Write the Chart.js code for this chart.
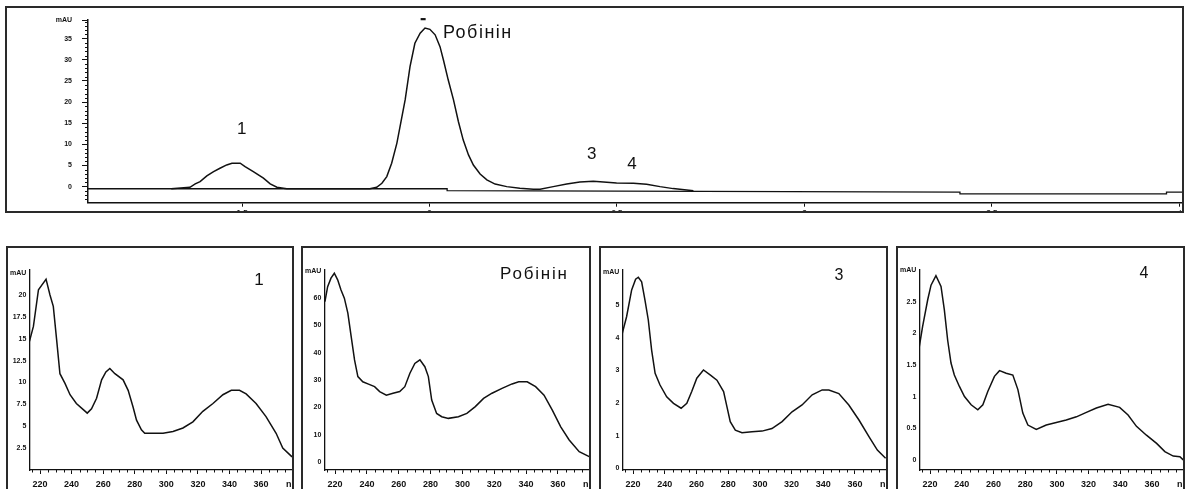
<!DOCTYPE html>
<html>
<head>
<meta charset="utf-8">
<script src="https://cdn.jsdelivr.net/npm/chart.js@4.4.1/dist/chart.umd.min.js"></script>
<style>
  html, body { margin: 0; padding: 0; background: #fff; }
  body { width: 1192px; height: 489px; overflow: hidden; position: relative; }
  .frame { position: absolute; border: 2px solid #2a2a2a; box-sizing: border-box; pointer-events: none; z-index: 2; }
  .clip { position: absolute; overflow: hidden; }
  .holder { position: absolute; }
  canvas { display: block; }
</style>
</head>
<body>
<div class="frame" style="left:5px;top:6px;width:1179px;height:207px"></div>
<div class="clip" style="left:7px;top:8px;width:1175px;height:203px">
  <div class="holder" style="left:-7px;top:-8px;width:1230px;height:260px"><canvas id="chrom" width="1230" height="260" style="width:1230px;height:260px"></canvas></div>
</div>
<div id="spectra"></div>

<script>
// ---- Chromatogram: retention time (min) vs absorbance (mAU) ----
const chromTime = [1.311, 1.361, 1.375, 1.388, 1.406, 1.424, 1.441, 1.459, 1.473, 1.495, 1.508, 1.530, 1.557, 1.575, 1.593, 1.619,
  1.841, 1.859, 1.873, 1.886, 1.899, 1.913, 1.921, 1.935, 1.948, 1.961, 1.975, 1.988, 2.001, 2.015, 2.028, 2.037, 2.050, 2.064,
  2.077, 2.090, 2.104, 2.117, 2.135, 2.153, 2.175, 2.206, 2.241, 2.277, 2.295, 2.330, 2.366, 2.401, 2.437, 2.464, 2.499, 2.544,
  2.579, 2.615, 2.650, 2.686, 2.704];
const chromAbs = [-0.5, -0.15, 0.64, 1.18, 2.53, 3.55, 4.35, 5.13, 5.53, 5.53, 4.73, 3.55, 1.99, 0.64, -0.15, -0.5,
  -0.5, -0.15, 0.8, 2.37, 5.53, 10.3, 14.0, 20.5, 28.4, 33.9, 36.3, 37.5, 37.2, 35.9, 33.1, 30.0, 25.2, 20.5,
  15.4, 11.0, 7.5, 5.1, 3.0, 1.6, 0.6, 0.0, -0.4, -0.6, -0.6, 0.0, 0.64, 1.1, 1.26, 1.1, 0.88, 0.8,
  0.56, 0.0, -0.47, -0.79, -0.95];

// integration baseline / drift of the detector signal
const baseTime = [1.089, 2.047, 2.047, 3.415, 3.415, 3.966, 3.966, 4.01];
const baseAbs  = [-0.5, -0.5, -0.95, -1.3, -1.7, -1.7, -1.3, -1.3];

// apex mark above the main peak
const apexMarkTime = [1.983];
const apexMarkAbs  = [39.6];

// peak names with their apex positions
const peakNames = ['1', 'Робінін', '3', '4'];
const peakTime  = [1.484, 1.985, 2.437, 2.544];
const peakAbs   = [5.53, 37.5, 1.26, 0.80];

// chromatogram axis ticks
const chromTimeTicks      = [1.5, 2, 2.5, 3, 3.5, 4];
const chromTimeTickLabels = ['1.5', '2', '2.5', '3', '3.5', 'min'];
const chromAbsTicks       = [0, 5, 10, 15, 20, 25, 30, 35];

// ---- UV spectra: wavelength (nm) vs absorbance (mAU) ----
const spec1Wl  = [213.3, 215.8, 219.0, 221.0, 223.8, 226.3, 228.4, 230.5, 232.6, 235.8, 239.0, 243.0, 247.4, 249.9, 252.6,
  255.8, 259.0, 261.7, 264.2, 267.4, 272.6, 275.8, 278.9, 281.1, 284.2, 286.3, 297.9, 304.2, 310.5, 316.8, 323.1, 329.5,
  335.8, 341.1, 346.3, 350.5, 356.8, 363.1, 369.5, 373.7, 379.6];
const spec1Abs = [14.7, 16.4, 20.6, 21.1, 21.8, 20.0, 18.7, 14.9, 11.0, 9.9, 8.6, 7.6, 6.9, 6.5, 7.0,
  8.2, 10.3, 11.2, 11.6, 11.0, 10.3, 9.1, 7.2, 5.7, 4.6, 4.2, 4.2, 4.4, 4.8, 5.5, 6.7, 7.6,
  8.6, 9.1, 9.1, 8.7, 7.6, 6.1, 4.2, 2.5, 1.5];

const spec2Wl  = [213.6, 215.3, 217.4, 219.5, 221.6, 223.7, 225.8, 228.0, 230.1, 232.2, 234.3, 237.4, 240.6, 244.8, 248.0,
  252.2, 256.4, 260.6, 263.8, 267.0, 270.1, 273.3, 276.4, 278.6, 280.7, 283.8, 287.0, 291.2, 297.5, 302.8, 308.1, 313.3,
  318.6, 324.9, 331.2, 335.4, 340.7, 346.0, 351.3, 356.5, 361.8, 367.1, 373.4, 379.7];
const spec2Abs = [58.7, 64.2, 67.3, 69.1, 66.7, 63.0, 60.0, 54.5, 45.9, 37.4, 31.3, 29.4, 28.6, 27.6, 25.8,
  24.5, 25.2, 25.8, 27.6, 32.5, 36.1, 37.4, 34.9, 31.3, 22.7, 17.8, 16.6, 16.0, 16.6, 17.8, 20.3, 23.3,
  25.2, 27.0, 28.6, 29.4, 29.4, 27.6, 24.5, 19.0, 12.9, 8.1, 3.8, 2.0];

const spec3Wl  = [213.2, 215.9, 219.1, 221.6, 223.3, 225.4, 227.5, 229.6, 231.7, 233.9, 237.0, 241.2, 245.5, 250.3, 253.9,
  257.0, 260.2, 264.4, 268.6, 272.9, 277.1, 279.2, 281.3, 284.5, 288.7, 295.0, 301.3, 307.6, 314.0, 320.3, 326.6, 333.0,
  339.3, 343.5, 349.8, 356.1, 362.5, 368.8, 374.1, 379.3];
const spec3Abs = [4.13, 4.64, 5.46, 5.79, 5.85, 5.71, 5.15, 4.54, 3.62, 2.91, 2.55, 2.19, 1.99, 1.84, 1.99,
  2.35, 2.76, 3.01, 2.86, 2.70, 2.35, 1.89, 1.43, 1.17, 1.09, 1.12, 1.14, 1.22, 1.43, 1.73, 1.94, 2.25,
  2.40, 2.40, 2.29, 1.94, 1.48, 0.97, 0.56, 0.31];

const spec4Wl  = [213.2, 215.3, 218.5, 220.6, 223.7, 226.9, 229.0, 231.1, 233.2, 235.3, 238.5, 241.7, 245.9, 250.1, 253.3,
  256.4, 260.6, 263.8, 268.0, 272.2, 275.4, 278.5, 281.7, 287.0, 293.3, 299.6, 305.9, 312.3, 318.6, 324.9, 332.3, 339.6,
  344.9, 350.2, 356.5, 362.9, 368.1, 373.4, 377.6, 379.7];
const spec4Abs = [1.79, 2.11, 2.53, 2.76, 2.91, 2.74, 2.37, 1.89, 1.53, 1.34, 1.16, 1.00, 0.87, 0.79, 0.87,
  1.08, 1.32, 1.41, 1.37, 1.34, 1.11, 0.74, 0.55, 0.48, 0.55, 0.59, 0.63, 0.68, 0.75, 0.82, 0.88, 0.83,
  0.71, 0.53, 0.39, 0.26, 0.13, 0.06, 0.05, 0.0];

// spectra axis ticks (top value of each absorbance axis carries the unit)
const wlTicks      = [220, 240, 260, 280, 300, 320, 340, 360, 380];
const wlTickLabels = ['220', '240', '260', '280', '300', '320', '340', '360', 'nm'];
const spec1AbsTicks = [2.5, 5, 7.5, 10, 12.5, 15, 17.5, 20, 22.5];
const spec2AbsTicks = [0, 10, 20, 30, 40, 50, 60, 70];
const spec3AbsTicks = [0, 1, 2, 3, 4, 5, 6];
const spec4AbsTicks = [0, 0.5, 1, 1.5, 2, 2.5, 3];

// ---------------------------------------------------------------
const FONT = "'Liberation Sans', Arial, Helvetica, sans-serif";
const INK = '#111';
Chart.defaults.font.family = FONT;
Chart.defaults.color = INK;

const pts = (xs, ys) => xs.map((x, i) => ({ x, y: ys[i] }));

// small unlabeled ticks between the major ones
function minorTicks(list) {
  return {
    id: 'minorTicks',
    afterDraw(chart) {
      const ctx = chart.ctx, a = chart.chartArea;
      ctx.save();
      ctx.strokeStyle = INK;
      ctx.lineWidth = 1;
      list.forEach(m => {
        const s = chart.scales[m.axis];
        for (let k = Math.ceil(s.min / m.step - 1e-9); k * m.step <= s.max + 1e-9; k++) {
          const v = k * m.step;
          const r = v / m.major;
          if (Math.abs(r - Math.round(r)) < 1e-6) continue;
          const p = Math.round(s.getPixelForValue(v)) + 0.5;
          ctx.beginPath();
          if (m.axis === 'x') { ctx.moveTo(p, a.bottom); ctx.lineTo(p, a.bottom + m.len); }
          else { ctx.moveTo(a.left, p); ctx.lineTo(a.left - m.len, p); }
          ctx.stroke();
        }
      });
      ctx.restore();
    }
  };
}

// peak name captions
function captions(items) {
  return {
    id: 'captions',
    afterDatasetsDraw(chart) {
      const ctx = chart.ctx;
      items.forEach(it => {
        const p = it.at(chart);
        ctx.save();
        ctx.font = it.font;
        ctx.fillStyle = INK;
        ctx.textAlign = it.align || 'center';
        ctx.textBaseline = it.baseline || 'middle';
        if ('letterSpacing' in ctx) ctx.letterSpacing = it.spacing || '0px';
        ctx.fillText(it.text, p.x, p.y);
        ctx.restore();
      });
    }
  };
}

const tickFont = (size) => ({ family: FONT, size, weight: 'bold' });

// ---- chromatogram ----
const chromCaptionStyle = [
  { dx: 5.6,  dy: -33.7, align: 'center', baseline: 'middle', spacing: '0px', size: 17 },
  { dx: 19,   dy: 10.3,  align: 'left',   baseline: 'alphabetic', spacing: '1.5px', size: 18 },
  { dx: -1.6, dy: -27.3, align: 'center', baseline: 'middle', spacing: '0px', size: 17 },
  { dx: -1.4, dy: -19.2, align: 'center', baseline: 'middle', spacing: '0px', size: 17 }
];

new Chart(document.getElementById('chrom'), {
  type: 'line',
  data: {
    datasets: [
      { data: pts(chromTime, chromAbs), borderColor: INK, borderWidth: 1.5, pointRadius: 0, tension: 0, fill: false },
      { data: pts(baseTime, baseAbs), borderColor: INK, borderWidth: 1.3, pointRadius: 0, tension: 0, fill: false },
      { data: pts(apexMarkTime, apexMarkAbs), showLine: false, pointStyle: 'line', pointRadius: 2.5,
        pointBorderWidth: 2.2, borderColor: INK, backgroundColor: INK, clip: false }
    ]
  },
  options: {
    responsive: false,
    devicePixelRatio: 1,
    animation: false,
    events: [],
    layout: { padding: { left: 0, top: 20, right: 47, bottom: 37.3 } },
    plugins: { legend: { display: false }, tooltip: { enabled: false } },
    scales: {
      x: {
        type: 'linear', min: 1.089, max: 4.01,
        afterFit: s => { s.height = 20; },
        afterBuildTicks: s => { s.ticks = chromTimeTicks.map(v => ({ value: v })); },
        ticks: { callback: (v, i) => chromTimeTickLabels[i], font: tickFont(8), color: INK,
                 padding: 1, maxRotation: 0, autoSkip: false },
        grid: { drawOnChartArea: false, tickLength: 4, color: INK, tickColor: INK },
        border: { color: INK, width: 1.5 }
      },
      y: {
        type: 'linear', min: -3.8, max: 39.4,
        afterFit: s => { s.width = 88; },
        afterBuildTicks: s => { s.ticks = chromAbsTicks.concat([39.4]).map(v => ({ value: v })); },
        ticks: { callback: (v, i, t) => (i === t.length - 1 ? 'mAU' : String(v)), font: tickFont(7), color: INK,
                 padding: 10, autoSkip: false },
        grid: { drawOnChartArea: false, tickLength: 6, color: INK, tickColor: INK },
        border: { color: INK, width: 1.5 }
      }
    }
  },
  plugins: [
    minorTicks([{ axis: 'y', step: 1, major: 5, len: 3 }]),
    captions(peakNames.map((name, i) => ({
      text: name,
      font: `${chromCaptionStyle[i].size}px ${FONT}`,
      align: chromCaptionStyle[i].align,
      baseline: chromCaptionStyle[i].baseline,
      spacing: chromCaptionStyle[i].spacing,
      at: c => ({ x: c.scales.x.getPixelForValue(peakTime[i]) + chromCaptionStyle[i].dx,
                  y: c.scales.y.getPixelForValue(peakAbs[i]) + chromCaptionStyle[i].dy })
    })))
  ]
});

// ---- spectra panels ----
const panels = [
  { left: 6,   width: 288, wl: spec1Wl, abs: spec1Abs, yMin: 0,     yMax: 22.85, ticks: spec1AbsTicks, name: peakNames[0],
    cap: { dx: -33.7, dy: 10, align: 'center', baseline: 'middle', size: 17, spacing: '0px' } },
  { left: 301, width: 290, wl: spec2Wl, abs: spec2Abs, yMin: -2.9,  yMax: 70.3,  ticks: spec2AbsTicks, name: peakNames[1],
    cap: { dx: -89.7, dy: 9, align: 'left', baseline: 'alphabetic', size: 17, spacing: '1.8px' } },
  { left: 599, width: 289, wl: spec3Wl, abs: spec3Abs, yMin: -0.05, yMax: 6.07,  ticks: spec3AbsTicks, name: peakNames[2],
    cap: { dx: -47.7, dy: 5.5, align: 'center', baseline: 'middle', size: 16, spacing: '0px' } },
  { left: 896, width: 289, wl: spec4Wl, abs: spec4Abs, yMin: -0.16, yMax: 3.0,   ticks: spec4AbsTicks, name: peakNames[3],
    cap: { dx: -39.7, dy: 4, align: 'center', baseline: 'middle', size: 16, spacing: '0px' } }
];

const host = document.getElementById('spectra');
panels.forEach(p => {
  const W = p.width + 40, H = 270;
  const frame = document.createElement('div');
  frame.className = 'frame';
  Object.assign(frame.style, { left: p.left + 'px', top: '246px', width: p.width + 'px', height: '260px' });
  const clip = document.createElement('div');
  clip.className = 'clip';
  Object.assign(clip.style, { left: (p.left + 2) + 'px', top: '248px', width: (p.width - 4) + 'px', height: '241px' });
  const holder = document.createElement('div');
  holder.className = 'holder';
  Object.assign(holder.style, { left: '-2px', top: '-8px', width: W + 'px', height: H + 'px' });
  const cv = document.createElement('canvas');
  cv.width = W; cv.height = H;
  cv.style.width = W + 'px'; cv.style.height = H + 'px';
  holder.appendChild(cv); clip.appendChild(holder);
  host.appendChild(clip); host.appendChild(frame);

  new Chart(cv, {
    type: 'line',
    data: { datasets: [{ data: pts(p.wl, p.abs), borderColor: INK, borderWidth: 1.5, pointRadius: 0, tension: 0, fill: false }] },
    options: {
      responsive: false,
      devicePixelRatio: 1,
      animation: false,
      events: [],
      layout: { padding: { left: 0, top: 30, right: 41.3, bottom: 20 } },
      plugins: { legend: { display: false }, tooltip: { enabled: false } },
      scales: {
        x: {
          type: 'linear', min: 213.2, max: 380,
          afterFit: s => { s.height = 20; },
          afterBuildTicks: s => { s.ticks = wlTicks.map(v => ({ value: v })); },
          ticks: { callback: (v, i) => wlTickLabels[i], font: tickFont(9), color: INK, padding: 5,
                   maxRotation: 0, autoSkip: false },
          grid: { drawOnChartArea: false, tickLength: 4, color: INK, tickColor: INK },
          border: { color: INK, width: 1.3 }
        },
        y: {
          type: 'linear', min: p.yMin, max: p.yMax,
          afterFit: s => { s.width = 23.3; },
          afterBuildTicks: s => { s.ticks = p.ticks.map(v => ({ value: v })); },
          ticks: { callback: (v, i, t) => (i === t.length - 1 ? 'mAU' : String(v)), font: tickFont(7), color: INK,
                   padding: 3, autoSkip: false },
          grid: { drawOnChartArea: false, drawTicks: false, color: INK },
          border: { color: INK, width: 1.3 }
        }
      }
    },
    plugins: [
      minorTicks([{ axis: 'x', step: 5, major: 20, len: 2.5 }]),
      captions([{
        text: p.name,
        font: `${p.cap.size}px ${FONT}`,
        align: p.cap.align, baseline: p.cap.baseline, spacing: p.cap.spacing,
        at: c => ({ x: c.chartArea.right + p.cap.dx, y: c.chartArea.top + p.cap.dy })
      }])
    ]
  });
});
</script>
</body>
</html>
